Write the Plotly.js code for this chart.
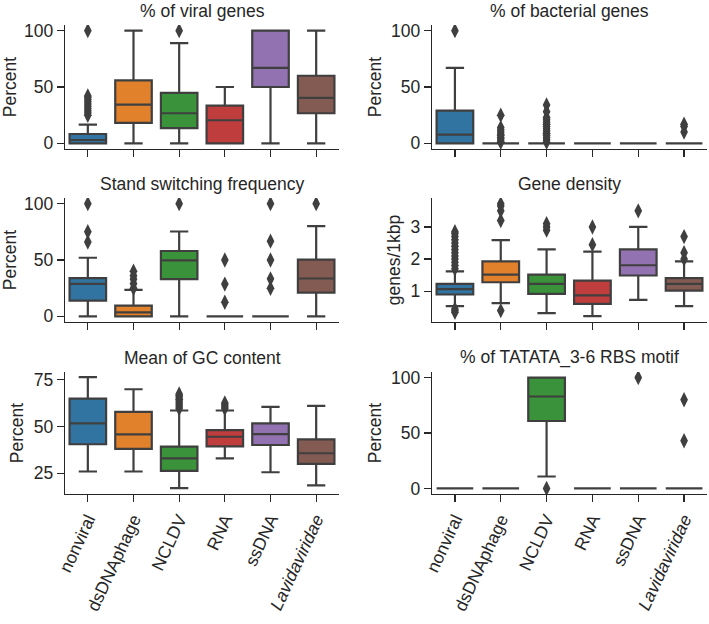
<!DOCTYPE html>
<html><head><meta charset="utf-8">
<script src="https://cdn.plot.ly/plotly-3.0.1.min.js"></script>
<style>body{margin:0;padding:0;background:#fff}#chart{width:709px;height:624px}</style>
</head><body><div id="chart"></div>
<script>
// ---- categories & labels ----
const categories = ["nonviral","dsDNAphage","NCLDV","RNA","ssDNA","Lavidaviridae"];
const tickLabels = ["nonviral","dsDNAphage","NCLDV","RNA","ssDNA","<i>Lavidaviridae</i>"];
const boxColors = ["#3274a1","#e1812c","#3a923a","#c03d3e","#9372b2","#845b53"];

// ---- % of viral genes ----
const viralQ1  = [0, 18.1, 13.6, 0, 50, 26.7];
const viralMed = [3, 34.4, 26.7, 20.5, 67, 40.4];
const viralQ3  = [8.3, 55.8, 44.8, 33.5, 100, 60];
const viralLo  = [0, 0, 0, 0, 0, 0];
const viralHi  = [16.6, 100, 89, 50, 100, 100];
const viralOut = [[25,27,29,31,33,35,37,39,41,42,100],[],[100],[],[],[]];

// ---- % of bacterial genes ----
const bactQ1  = [0, 0, 0, 0, 0, 0];
const bactMed = [7.7, 0, 0, 0, 0, 0];
const bactQ3  = [29, 0, 0, 0, 0, 0];
const bactLo  = [0, 0, 0, 0, 0, 0];
const bactHi  = [67, 0, 0, 0, 0, 0];
const bactOut = [[100],[1,2,4,5,7,8,10,12,14,25],[1,3,5,7,9,11,13,15,17,19,21,23,28,34],[],[],[10,15,17]];

// ---- Stand switching frequency ----
const ssfQ1  = [14, 0, 33, 0, 0, 21];
const ssfMed = [28.9, 3.6, 49.7, 0, 0, 33.6];
const ssfQ3  = [33.9, 9.5, 58, 0, 0, 50.3];
const ssfLo  = [0, 0, 0, 0, 0, 0];
const ssfHi  = [52, 23.5, 75.3, 0, 0, 80];
const ssfOut = [[66,75,100],[25,29,33,36,40],[100],[12.5,28.6,50],[25,33.3,50,66.7,100],[100]];

// ---- Gene density ----
const gdQ1  = [0.9, 1.28, 0.92, 0.61, 1.49, 1.02];
const gdMed = [1.07, 1.52, 1.23, 0.87, 1.81, 1.23];
const gdQ3  = [1.23, 1.93, 1.52, 1.33, 2.3, 1.41];
const gdLo  = [0.54, 0.63, 0.32, 0.23, 0.73, 0.54];
const gdHi  = [1.62, 2.59, 2.3, 2.23, 3.0, 1.93];
const gdOut = [[0.35,0.4,0.45,1.7,1.8,1.9,2.0,2.1,2.2,2.3,2.4,2.5,2.6,2.7,2.8,2.85],[0.4,3.2,3.5,3.65,3.72],[2.9,3.0,3.1],[2.45,3.0],[3.5],[2.0,2.2,2.7]];

// ---- Mean of GC content ----
const gcQ1  = [40.5, 38, 26.3, 39.4, 40.1, 30];
const gcMed = [51.6, 45.8, 33, 44.5, 45.9, 35.7];
const gcQ3  = [64.8, 57.8, 39.2, 48, 51.6, 43.1];
const gcLo  = [26, 26, 17.1, 33, 25.6, 18.6];
const gcHi  = [76.3, 69.8, 58.5, 58.5, 60.4, 61];
const gcOut = [[],[],[59.5,60.5,61.5,62.5,63.5,64.5,65.5,66.5,67.3],[59.5,60.5,61.5,62.5],[],[]];

// ---- % of TATATA_3-6 RBS motif ----
const rbsQ1  = [0, 0, 60.8, 0, 0, 0];
const rbsMed = [0, 0, 82.9, 0, 0, 0];
const rbsQ3  = [0, 0, 100, 0, 0, 0];
const rbsLo  = [0, 0, 10.8, 0, 0, 0];
const rbsHi  = [0, 0, 100, 0, 0, 0];
const rbsOut = [[],[],[0],[],[100],[43,80]];

const panels = [
  {title:"% of viral genes", ylab:"Percent", q1:viralQ1, med:viralMed, q3:viralQ3, lo:viralLo, hi:viralHi, out:viralOut, range:[-5,105], tv:[0,50,100]},
  {title:"% of bacterial genes", ylab:"Percent", q1:bactQ1, med:bactMed, q3:bactQ3, lo:bactLo, hi:bactHi, out:bactOut, range:[-5,105], tv:[0,50,100]},
  {title:"Stand switching frequency", ylab:"Percent", q1:ssfQ1, med:ssfMed, q3:ssfQ3, lo:ssfLo, hi:ssfHi, out:ssfOut, range:[-5,105], tv:[0,50,100]},
  {title:"Gene density", ylab:"genes/1kbp", q1:gdQ1, med:gdMed, q3:gdQ3, lo:gdLo, hi:gdHi, out:gdOut, range:[0.045,3.9], tv:[1,2,3]},
  {title:"Mean of GC content", ylab:"Percent", q1:gcQ1, med:gcMed, q3:gcQ3, lo:gcLo, hi:gcHi, out:gcOut, range:[14,79], tv:[25,50,75]},
  {title:"% of TATATA_3-6 RBS motif", ylab:"Percent", q1:rbsQ1, med:rbsMed, q3:rbsQ3, lo:rbsLo, hi:rbsHi, out:rbsOut, range:[-5,105], tv:[0,50,100]}
];

const W = 709, H = 624;
const colsPx = [[65,339],[432,707]];
const rowsPx = [[25,149],[198,322],[372,494]];
const gray = "#3f3f3f";
const ink = "#262626";
const FONT = "Liberation Sans, Arial, sans-serif";
const FS = 17.5;

const traces = [];
const layout = {
  width: W, height: H, margin:{l:0,r:0,t:0,b:0},
  paper_bgcolor:"#fff", plot_bgcolor:"#fff", showlegend:false,
  font:{family:FONT, size:FS, color:ink},
  boxmode:"overlay", annotations:[]
};

panels.forEach((p, i) => {
  const r = Math.floor(i/2), c = i%2;
  const n = i+1;
  const xa = "x"+(n===1?"":n), ya = "y"+(n===1?"":n);
  const xk = "xaxis"+(n===1?"":n), yk = "yaxis"+(n===1?"":n);
  const xd = [colsPx[c][0]/W, colsPx[c][1]/W];
  const yd = [1-rowsPx[r][1]/H, 1-rowsPx[r][0]/H];
  layout[xk] = {
    domain:xd, anchor:ya, type:"category", categoryorder:"array", categoryarray:categories,
    range:[-0.5,5.5], showline:true, linecolor:ink, linewidth:1.3, ticks:"outside", ticklen:7, tickwidth:1.3, tickcolor:ink,
    showgrid:false, zeroline:false, tickmode:"array", tickvals:categories,
    ticktext: r===2 ? tickLabels : categories.map(()=>""), tickangle:-65,
    tickfont:{family:FONT, size:FS, color:ink}, fixedrange:true
  };
  layout[yk] = {
    domain:yd, anchor:xa, range:p.range, tickvals:p.tv, showline:true, linecolor:ink, linewidth:1.3,
    ticks:"outside", ticklen:7, tickwidth:1.3, tickcolor:ink, showgrid:false, zeroline:false,
    tickfont:{family:FONT, size:FS, color:ink},
    title:{text:p.ylab, font:{family:FONT, size:FS, color:ink}, standoff:5}, fixedrange:true
  };
  layout.annotations.push({
    text:p.title, xref:"paper", yref:"paper", x:(xd[0]+xd[1])/2, y:yd[1], xanchor:"center", yanchor:"bottom",
    yshift:2, showarrow:false, font:{family:FONT, size:FS, color:ink}
  });
  categories.forEach((cat, k) => {
    traces.push({
      type:"box", xaxis:xa, yaxis:ya, x:[cat],
      q1:[p.q1[k]], median:[p.med[k]], q3:[p.q3[k]], lowerfence:[p.lo[k]], upperfence:[p.hi[k]],
      boxpoints:false, width:0.8, whiskerwidth:0.5,
      fillcolor:boxColors[k], line:{color:gray, width:2.2}, hoverinfo:"skip"
    });
    if (p.out[k].length) {
      traces.push({
        type:"scatter", mode:"markers", xaxis:xa, yaxis:ya,
        x:p.out[k].map(()=>cat), y:p.out[k],
        marker:{symbol:"diamond-tall", size:11, color:gray, line:{width:0}}, hoverinfo:"skip"
      });
    }
  });
});

Plotly.newPlot("chart", traces, layout, {staticPlot:true, displayModeBar:false});
</script></body></html>
